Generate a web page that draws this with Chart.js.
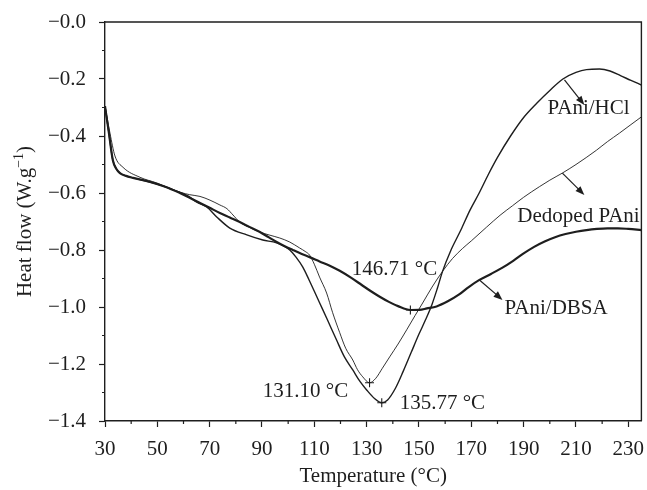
<!DOCTYPE html>
<html>
<head>
<meta charset="utf-8">
<script src="https://cdn.jsdelivr.net/npm/chart.js@4.4.1/dist/chart.umd.min.js"></script>
<style>
  html, body { margin: 0; padding: 0; background: #fff; }
  #grafico { display: block; }
</style>
</head>
<body>
<canvas id="grafico" width="647" height="490"></canvas>
<script>
// ===== DATA =====
const seriesNames = ["PAni/HCl", "Dedoped PAni", "PAni/DBSA"];

const tempHCl = [30, 31.5, 33, 34.3, 35.7, 38, 40.7, 47.2, 53, 58.6, 62, 65.1, 68.9, 72.7, 77.7, 84.2, 90.3, 95.6,
  100.6, 103, 105.6, 108, 110, 112, 115, 118.5, 121.5, 124.7, 127.5, 130, 133, 135.77, 138, 141, 144, 147, 150,
  152.5, 155, 157, 159, 162, 166, 169.5, 173, 176.5, 180, 185, 190, 195, 200, 205, 210, 214, 219, 223, 227, 231, 235];
const flowHCl = [-0.295, -0.39, -0.485, -0.515, -0.53, -0.54, -0.547, -0.562, -0.578, -0.598, -0.612, -0.632, -0.649,
  -0.684, -0.723, -0.747, -0.765, -0.775, -0.8, -0.825, -0.86, -0.905, -0.945, -0.985, -1.045, -1.116, -1.175, -1.221,
  -1.262, -1.291, -1.321, -1.336, -1.326, -1.285, -1.225, -1.16, -1.095, -1.045, -0.99, -0.935, -0.875, -0.805, -0.73,
  -0.66, -0.6, -0.535, -0.475, -0.4, -0.335, -0.285, -0.24, -0.2, -0.177, -0.167, -0.165, -0.172, -0.188, -0.205, -0.221];

const tempDedoped = [30, 31.9, 33.8, 36.9, 43.4, 49.8, 55, 59, 62.4, 66.3, 70.1, 73.9, 76.6, 78.9, 81.5, 85, 89.2, 93,
  96.8, 100.6, 104.4, 106.5, 108.2, 110, 112, 114.7, 117, 119.7, 122, 124.7, 126.5, 128.5, 131.10, 133.5, 136, 138.8,
  142, 145.3, 148.5, 151.4, 155, 159, 162.8, 166.6, 170, 175.8, 181, 185.7, 190, 196, 200, 204.8, 210, 217.8, 222,
  226.6, 231, 235];
const flowDedoped = [-0.295, -0.39, -0.47, -0.51, -0.545, -0.565, -0.585, -0.598, -0.606, -0.612, -0.625, -0.642,
  -0.655, -0.677, -0.702, -0.72, -0.737, -0.748, -0.758, -0.772, -0.793, -0.805, -0.818, -0.85, -0.895, -0.951, -1.02,
  -1.09, -1.145, -1.186, -1.22, -1.245, -1.266, -1.25, -1.215, -1.175, -1.13, -1.08, -1.03, -0.986, -0.93, -0.875,
  -0.83, -0.795, -0.768, -0.72, -0.678, -0.645, -0.615, -0.578, -0.555, -0.53, -0.5, -0.45, -0.42, -0.39, -0.36, -0.333];

const tempDBSA = [30, 31.5, 33, 34.3, 35.7, 38, 40.7, 47.2, 53, 58.6, 62, 66.3, 70, 73.9, 77.7, 81.5, 85, 89.2, 92.5,
  95.6, 98.7, 101.8, 105, 108.2, 112, 115.9, 119.7, 124, 128, 131.5, 135, 138.5, 142, 146.71, 150.2, 153, 156.7, 161,
  165.5, 169, 173.1, 177.5, 181.9, 186, 190, 194, 198, 202, 206, 210, 214, 218, 222, 226, 230, 235];
const flowDBSA = [-0.295, -0.39, -0.485, -0.515, -0.53, -0.54, -0.547, -0.561, -0.578, -0.6, -0.615, -0.635, -0.652,
  -0.67, -0.686, -0.702, -0.718, -0.737, -0.755, -0.772, -0.787, -0.8, -0.813, -0.825, -0.84, -0.855, -0.873, -0.897,
  -0.922, -0.944, -0.964, -0.982, -0.997, -1.0105, -1.01, -1.005, -0.998, -0.98, -0.955, -0.93, -0.905, -0.884, -0.862,
  -0.838, -0.812, -0.789, -0.77, -0.755, -0.744, -0.736, -0.73, -0.726, -0.724, -0.724, -0.726, -0.73];

// minimum of each curve (HCl, dedoped, DBSA)
const peakTemps = [135.77, 131.10, 146.71];
const peakFlows = [-1.336, -1.266, -1.0105];

// ===== AXES =====
const xTicks = [30, 50, 70, 90, 110, 130, 150, 170, 190, 210, 230];
const xMinorTicks = [40, 60, 80, 100, 120, 140, 160, 180, 200, 220];
const yTicks = [0, -0.2, -0.4, -0.6, -0.8, -1.0, -1.2, -1.4];
const yMinorTicks = [-0.1, -0.3, -0.5, -0.7, -0.9, -1.1, -1.3];

// ===== ANNOTATIONS (data coordinates) =====
const nameSpots = [[199.1, -0.302], [187.6, -0.684], [182.7, -1.004]];
const peakLabelSpots = [[142.6, -1.337], [90.3, -1.298], [124.3, -0.87]];
const arrows = [
  [[205.6, -0.2035], [213.2, -0.291]],
  [[204.8, -0.53], [213.2, -0.607]],
  [[173.1, -0.905], [181.9, -0.975]]
];

const INK = "#1e1e1e";
const FONT = "'Liberation Serif', 'Times New Roman', serif";
Chart.defaults.font.family = FONT;
Chart.defaults.color = INK;

const toPoints = (xs, ys) => xs.map((x, i) => ({ x: x, y: ys[i] }));

function curve(xs, ys, width) {
  return {
    data: toPoints(xs, ys),
    borderColor: INK,
    borderWidth: width,
    pointRadius: 0,
    fill: false,
    cubicInterpolationMode: "monotone"
  };
}

function arrowTo(ctx, x1, y1, x2, y2) {
  const ang = Math.atan2(y2 - y1, x2 - x1);
  const len = 9, half = 3.5;
  ctx.beginPath();
  ctx.moveTo(x1, y1);
  ctx.lineTo(x2 - Math.cos(ang) * len * 0.8, y2 - Math.sin(ang) * len * 0.8);
  ctx.stroke();
  ctx.beginPath();
  ctx.moveTo(x2, y2);
  ctx.lineTo(x2 - Math.cos(ang) * len - Math.sin(ang) * half, y2 - Math.sin(ang) * len + Math.cos(ang) * half);
  ctx.lineTo(x2 - Math.cos(ang) * len + Math.sin(ang) * half, y2 - Math.sin(ang) * len - Math.cos(ang) * half);
  ctx.closePath();
  ctx.fill();
}

// frame, minor ticks, labels, arrows and the y title with its superscript
const decorations = {
  id: "decorations",
  afterDraw(chart) {
    const { ctx, chartArea: a, scales: { x, y } } = chart;
    ctx.save();
    ctx.strokeStyle = INK;
    ctx.fillStyle = INK;

    ctx.lineWidth = 1.4;
    ctx.beginPath();
    ctx.moveTo(a.left, a.top);
    ctx.lineTo(a.right, a.top);
    ctx.lineTo(a.right, a.bottom);
    ctx.stroke();

    ctx.lineWidth = 1.2;
    ctx.beginPath();
    xMinorTicks.forEach(v => {
      const px = x.getPixelForValue(v);
      ctx.moveTo(px, a.bottom);
      ctx.lineTo(px, a.bottom + 3);
    });
    yMinorTicks.forEach(v => {
      const py = y.getPixelForValue(v);
      ctx.moveTo(a.left, py);
      ctx.lineTo(a.left - 3, py);
    });
    ctx.stroke();

    ctx.font = "21px " + FONT;
    ctx.textAlign = "left";
    ctx.textBaseline = "middle";
    seriesNames.forEach((name, i) => {
      ctx.fillText(name, x.getPixelForValue(nameSpots[i][0]), y.getPixelForValue(nameSpots[i][1]));
    });
    peakTemps.forEach((t, i) => {
      ctx.fillText(t.toFixed(2) + " °C", x.getPixelForValue(peakLabelSpots[i][0]), y.getPixelForValue(peakLabelSpots[i][1]));
    });

    ctx.lineWidth = 1.2;
    arrows.forEach(([p, q]) => {
      arrowTo(ctx, x.getPixelForValue(p[0]), y.getPixelForValue(p[1]),
        x.getPixelForValue(q[0]), y.getPixelForValue(q[1]));
    });

    // Heat flow (W.g^-1)
    const main = "Heat flow (W.g", sup = "\u22121", tail = ")";
    ctx.font = "21px " + FONT;
    const w1 = ctx.measureText(main).width, w3 = ctx.measureText(tail).width;
    ctx.font = "14px " + FONT;
    const w2 = ctx.measureText(sup).width;
    const total = w1 + w2 + w3;
    ctx.translate(24, (a.top + a.bottom) / 2);
    ctx.rotate(-Math.PI / 2);
    ctx.textBaseline = "alphabetic";
    ctx.font = "21px " + FONT;
    ctx.fillText(main, -total / 2, 7);
    ctx.font = "14px " + FONT;
    ctx.fillText(sup, -total / 2 + w1, -1);
    ctx.font = "21px " + FONT;
    ctx.fillText(tail, -total / 2 + w1 + w2, 7);
    ctx.restore();
  }
};

const whiteBg = {
  id: "whiteBg",
  beforeDraw(chart) {
    const c = chart.ctx;
    c.save();
    c.fillStyle = "#fff";
    c.fillRect(0, 0, chart.width, chart.height);
    c.restore();
  }
};

const ctx = document.getElementById("grafico");

new Chart(ctx, {
  type: "line",
  data: {
    datasets: [
      curve(tempHCl, flowHCl, 1.4),
      curve(tempDedoped, flowDedoped, 0.9),
      curve(tempDBSA, flowDBSA, 2.2),
      {
        data: toPoints(peakTemps, peakFlows),
        showLine: false,
        pointStyle: "cross",
        pointRadius: 4.5,
        pointBorderWidth: 1.1,
        pointBorderColor: INK,
        borderColor: INK
      }
    ]
  },
  options: {
    responsive: false,
    animation: false,
    devicePixelRatio: 1,
    layout: { padding: { top: 22, right: 4, left: 0, bottom: 0 } },
    plugins: { legend: { display: false }, tooltip: { enabled: false } },
    scales: {
      x: {
        type: "linear",
        min: 30,
        max: 235,
        afterBuildTicks: s => { s.ticks = xTicks.map(v => ({ value: v })); },
        afterFit: s => { s.height = 69; s.paddingLeft = 0; s.paddingRight = 0; },
        ticks: { font: { size: 21 }, color: INK, padding: 10, maxRotation: 0, autoSkip: false },
        grid: { drawOnChartArea: false, drawTicks: true, tickLength: 6, tickWidth: 1.2, tickColor: INK },
        border: { display: true, color: INK, width: 1.4 },
        title: { display: true, text: "Temperature (°C)", font: { size: 21 }, color: INK, padding: { top: 0, bottom: 1 } }
      },
      y: {
        type: "linear",
        min: -1.4,
        max: 0,
        afterBuildTicks: s => { s.ticks = yTicks.map(v => ({ value: v })); },
        afterFit: s => { s.width = 105; s.paddingTop = 0; s.paddingBottom = 0; },
        ticks: {
          font: { size: 21 },
          color: INK,
          padding: 13,
          callback: v => "\u2212" + Math.abs(v).toFixed(1)
        },
        grid: { drawOnChartArea: false, drawTicks: true, tickLength: 6, tickWidth: 1.2, tickColor: INK },
        border: { display: true, color: INK, width: 1.4 }
      }
    }
  },
  plugins: [whiteBg, decorations]
});
</script>
</body>
</html>
